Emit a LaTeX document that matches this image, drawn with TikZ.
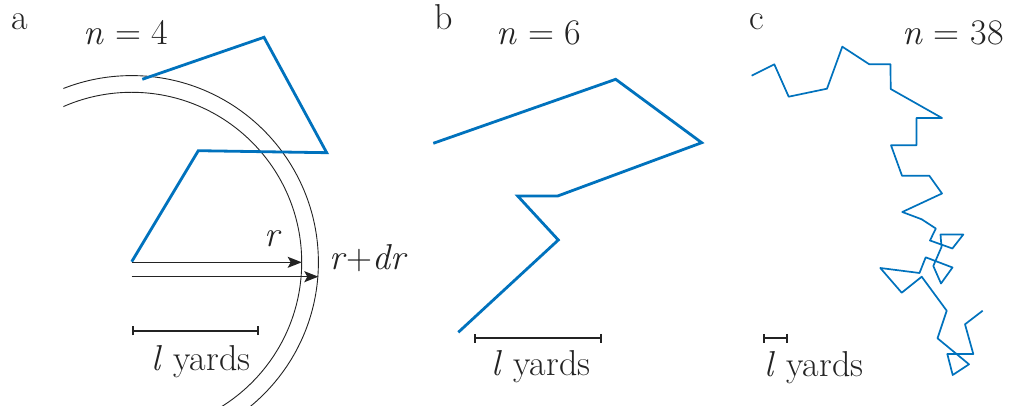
\documentclass[tikz,border=0pt]{standalone}
\usetikzlibrary{arrows.meta}
\definecolor{walk}{RGB}{0,114,189}
\definecolor{ink}{RGB}{35,35,35}
\newcommand{\eqsp}{\hspace{0.3em}}
\begin{document}
\begin{tikzpicture}[x=1pt,y=-1pt,
  lbl/.style={font=\fontsize{36}{42}\selectfont, text=ink, anchor=base, inner sep=0pt},
  walkA/.style={draw=walk, line width=2.8pt, line join=miter},
  walkC/.style={draw=walk, line width=1.7pt, line join=round},
  ring/.style={draw=ink, line width=0.9pt},
  radarrow/.style={draw=ink, line width=1.4pt, -{Stealth[length=14pt,width=11pt,inset=3pt]}},
  scalebar/.style={draw=ink, line width=1.6pt, {Bar[width=9pt,line width=2pt]}-{Bar[width=9pt,line width=2pt]}}]
\fill[white] (0,0) rectangle (1010,411);
\useasboundingbox (0,0) rectangle (1010,411);

% ---------- panel a ----------
\coordinate (O) at (131.7,262.3);
\coordinate (Ri) at (301.7,262.3);
\coordinate (O2) at (131.7,276.7);
\coordinate (Ro) at (318.3,276.7);
\begin{scope}
  \clip (63.3,0) rectangle (1010,406);
  \draw[ring] (O) circle[radius=170pt];
  \draw[ring] (O) circle[radius=186.7pt];
\end{scope}
\draw[walkA] (131.7,261.7) -- (198.3,150.7) -- (326.7,152.7) -- (264,37.3) -- (142.3,79.3);
\draw[radarrow] (O) -- (Ri);
\draw[radarrow] (O2) -- (Ro);
\node[lbl] (la) at (20,29.5) {a};
\node[lbl] (na) at (126,44.5) {\textit{n}\eqsp=\eqsp4};
\node[lbl] (r) at (273.3,246.7) {\textit{r}};
\node[lbl, anchor=base west] (rdr) at (329,270) {\textit{r}+\textit{dr}};
\coordinate (sa1) at (131.7,331);
\coordinate (sa2) at (259.3,331);
\draw[scalebar] (sa1) -- (sa2);
\node[lbl] (ya) at (201,371) {\textit{l} yards};

% ---------- panel b ----------
\draw[walkA] (458.3,332.3) -- (558.3,240) -- (517.7,196) -- (557.7,196) -- (701.7,142.7) -- (615.7,79.3) -- (433.3,143.3);
\node[lbl] (lb) at (444,30) {b};
\node[lbl] (nb) at (539,45) {\textit{n}\eqsp=\eqsp6};
\coordinate (sb1) at (474.3,338.3);
\coordinate (sb2) at (601.7,338.3);
\draw[scalebar] (sb1) -- (sb2);
\node[lbl] (yb) at (541,376) {\textit{l} yards};

% ---------- panel c ----------
\draw[walkC] (751.7,75.7) -- (774.3,64.3) -- (788.7,96.7) -- (827,88.7) -- (842.3,46.7)
  -- (869.3,64.3) -- (890.5,64.3) -- (890.7,89) -- (942,118) -- (916.5,118)
  -- (916.5,145.3) -- (891,145.3) -- (902,175.7) -- (929.3,175.7) -- (942,193.5)
  -- (902.3,212) -- (921.7,219.3) -- (935.8,228.5) -- (930,240.5) -- (952.4,248.5)
  -- (963.3,234.5) -- (940.5,234.5) -- (941.5,247) -- (933.3,266) -- (941,283.5)
  -- (952.5,267.5) -- (925.7,257.3) -- (919.5,273) -- (880.3,268) -- (901.7,292.7)
  -- (921.7,276.7) -- (946.7,310.7) -- (937.5,338.3) -- (969,364.3) -- (952.7,375)
  -- (947.3,354) -- (973.3,354) -- (965,324.3) -- (982.7,310.7);
\node[lbl] (lc) at (757,30) {c};
\node[lbl] (nc) at (953,45) {\textit{n}\eqsp=\eqsp38};
\coordinate (sc1) at (763.3,338.3);
\coordinate (sc2) at (787.7,338.3);
\draw[scalebar] (sc1) -- (sc2);
\node[lbl] (yc) at (814,376.5) {\textit{l} yards};
\end{tikzpicture}
\end{document}
